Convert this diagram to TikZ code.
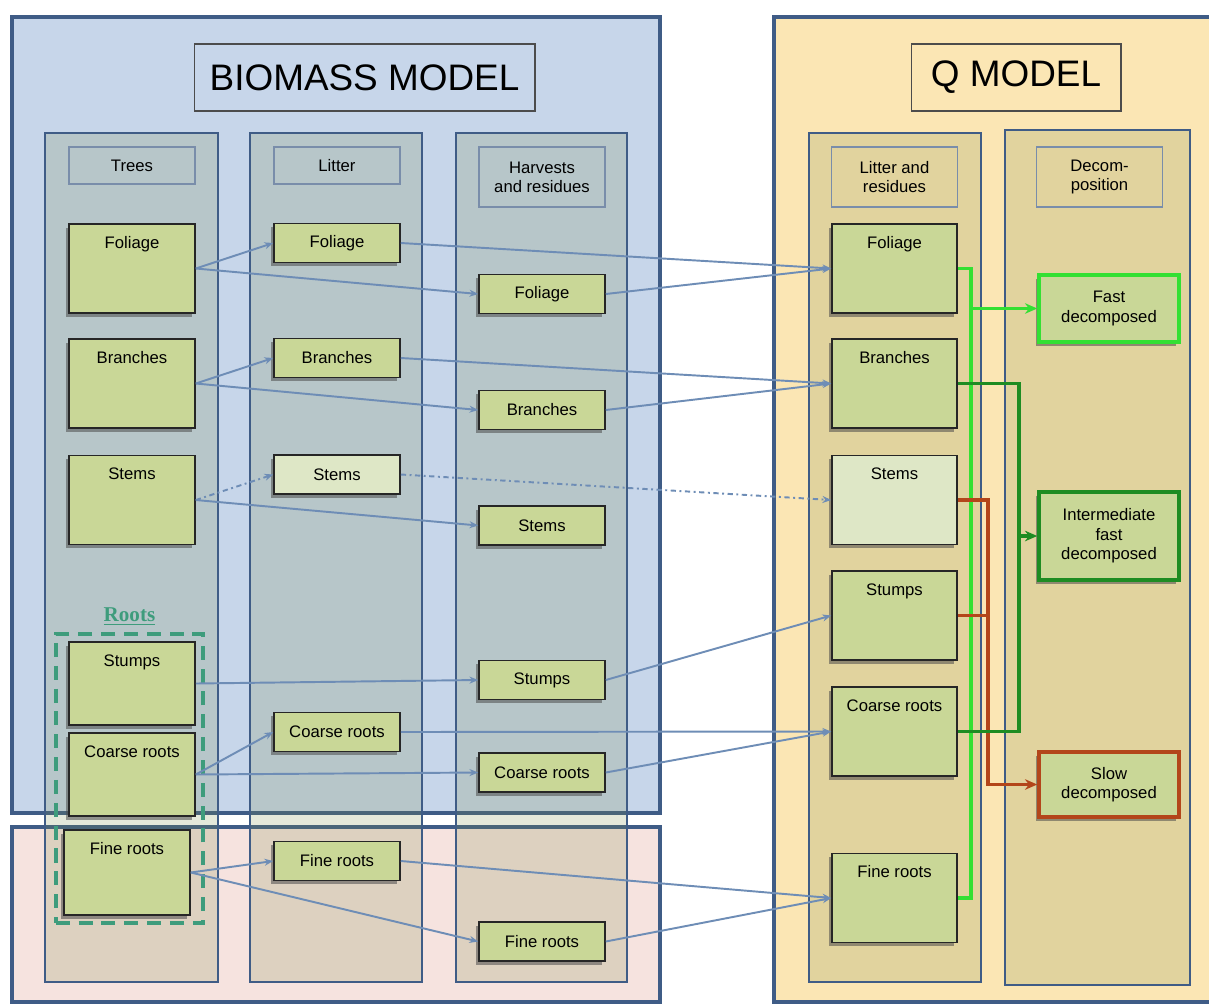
\documentclass[tikz,border=0pt]{standalone}
\usepackage{fontspec}
\setmainfont{Liberation Sans}
\newfontfamily\rootsfont{Liberation Serif}
\usetikzlibrary{positioning, arrows.meta, shadows, fit}

\definecolor{biomassbg}{HTML}{C7D6EA}
\definecolor{soilbg}{HTML}{F6E3DF}
\definecolor{qbg}{HTML}{FBE6B4}
\definecolor{frame}{HTML}{3F5C86}
\definecolor{lanefill}{HTML}{7A8A48}
\definecolor{poolfill}{HTML}{C9D797}
\definecolor{palepool}{HTML}{DEE7C6}
\definecolor{flowblue}{HTML}{6E8DB6}
\definecolor{fastgreen}{HTML}{33E033}
\definecolor{midgreen}{HTML}{1E8C22}
\definecolor{slowbrown}{HTML}{B3461A}
\definecolor{rootsteal}{HTML}{3E9C7C}

\begin{document}
\begin{tikzpicture}[
  >=Stealth,
  x=0.02cm, y=-0.02cm,
  font=\fontsize{9.5}{11}\selectfont
]
\tikzstyle{region}=[draw=frame, line width=1.8pt]
\tikzstyle{lane}=[draw=frame, line width=1.6pt, fill=lanefill, fill opacity=0.2]
\tikzstyle{lanehead}=[draw=frame!70, line width=0.6pt, minimum width=2.52cm, minimum height=0.74cm, align=center, inner sep=1pt]
\tikzstyle{modeltitle}=[draw=black!70, line width=0.6pt, minimum height=1.34cm, font=\fontsize{21}{24}\selectfont]
\tikzstyle{pool}=[draw=black!85, line width=0.9pt, fill=poolfill, minimum width=2.52cm, minimum height=0.78cm, inner sep=2pt, align=center, drop shadow={shadow xshift=-1.5pt, shadow yshift=-2pt, fill=black!70, opacity=0.55}]
\tikzstyle{tallpool}=[pool, text height=0.38cm, text depth=1.2cm, inner ysep=0.1cm]
\tikzstyle{sink}=[pool, line width=2pt, minimum width=2.8cm]
\tikzstyle{flow}=[-{Stealth[length=5pt, width=4pt]}, draw=flowblue, line width=1.1pt]
\tikzstyle{bus}=[line width=2pt]
\tikzstyle{busarrow}=[bus, -{Stealth[length=7pt, width=6pt]}]

\useasboundingbox (0,0) rectangle (1209,1004);

% ================= BACKGROUND =================
\draw[region, fill=biomassbg] (12,17) rectangle (660,813);
\draw[region, fill=soilbg] (12,827) rectangle (660,1002);
\draw[region, fill=qbg] (774,17) rectangle (1215,1002);

\draw[lane] (45,133) rectangle (218,982);
\draw[lane] (250,133) rectangle (422,982);
\draw[lane] (456,133) rectangle (627,982);
\draw[lane] (809,133) rectangle (981,982);
\draw[lane] (1005,130) rectangle (1190,985);

% ================= TITLES =================
\node[modeltitle, minimum width=6.82cm] (bmtitle) at (364.5,77.5) {BIOMASS MODEL};
\node[modeltitle, minimum width=4.2cm] (qtitle) at (1016,77.5) {Q MODEL};

\node[lanehead] (trees) at (132,165.5) {Trees};
\node[lanehead] (litter) at (337,165.5) {Litter};
\node[lanehead, minimum height=1.2cm] (harv) at (542,177) {Harvests\\and residues};
\node[lanehead, minimum height=1.2cm] (qlitter) at (894.5,177) {Litter and\\residues};
\node[lanehead, minimum height=1.2cm] (decomp) at (1099.5,177) {Decom-\\position};

% ================= TREES =================
\node[tallpool] (TFol) at (132,268.5) {Foliage};
\node[tallpool] (TBra) at (132,383.5) {Branches};
\node[tallpool] (TSte) at (132,500) {Stems};
\node[tallpool, text depth=1.08cm] (TStu) at (132,683.5) {Stumps};
\node[tallpool, text depth=1.08cm] (TCoa) at (132,774.5) {Coarse roots};
\node[tallpool, text depth=1.12cm] (TFin) at (127,872.5) {Fine roots};

\node[draw=rootsteal, dashed, dash pattern=on 8pt off 5pt, line width=2.2pt, inner sep=0.15cm, fit=(TStu)(TFin)] (rootsbox) {};
\node[above=0pt of rootsbox, text=rootsteal, font=\rootsfont\bfseries\fontsize{12}{14}\selectfont] (rootstxt) {\underline{Roots}};

% ================= LITTER =================
\node[pool] (LFol) at (337,243) {Foliage};
\node[pool] (LBra) at (337,358) {Branches};
\node[pool, fill=palepool] (LSte) at (337,474.5) {Stems};
\node[pool] (LCoa) at (337,732) {Coarse roots};
\node[pool] (LFin) at (337,861) {Fine roots};

% ================= HARVESTS =================
\node[pool] (HFol) at (542,294) {Foliage};
\node[pool] (HBra) at (542,410) {Branches};
\node[pool] (HSte) at (542,525.5) {Stems};
\node[pool] (HStu) at (542,680) {Stumps};
\node[pool] (HCoa) at (542,772.5) {Coarse roots};
\node[pool] (HFin) at (542,941.5) {Fine roots};

% ================= Q LITTER =================
\node[tallpool, minimum width=2.5cm] (QFol) at (894.5,268.5) {Foliage};
\node[tallpool, minimum width=2.5cm] (QBra) at (894.5,383.5) {Branches};
\node[tallpool, minimum width=2.5cm, fill=palepool] (QSte) at (894.5,500) {Stems};
\node[tallpool, minimum width=2.5cm] (QStu) at (894.5,615.5) {Stumps};
\node[tallpool, minimum width=2.5cm] (QCoa) at (894.5,731.5) {Coarse roots};
\node[tallpool, minimum width=2.5cm] (QFin) at (894.5,898) {Fine roots};

% ================= DECOMPOSITION =================
\node[sink, draw=fastgreen, minimum height=1.34cm] (Fast) at (1109,308.5) {Fast\\decomposed};
\node[sink, draw=midgreen, minimum height=1.76cm] (Inter) at (1109,536) {Intermediate\\fast\\decomposed};
\node[sink, draw=slowbrown, minimum height=1.3cm] (Slow) at (1109,784.5) {Slow\\decomposed};

% ===== Transfers =====
\foreach \a/\b in {TFol/LFol, TFol/HFol, LFol/QFol, HFol/QFol,
                   TBra/LBra, TBra/HBra, LBra/QBra, HBra/QBra,
                   TSte/HSte, TStu/HStu, HStu/QStu,
                   TCoa/LCoa, TCoa/HCoa, LCoa/QCoa, HCoa/QCoa,
                   TFin/LFin, TFin/HFin, LFin/QFin, HFin/QFin}
  \draw[flow] (\a.east) -- (\b.west);

\foreach \a/\b in {TSte/LSte, LSte/QSte}
  \draw[flow, dash dot] (\a.east) -- (\b.west);

% ===== Decomposition buses =====
\coordinate (fbus) at (971,0);
\coordinate (sbus) at (988,0);
\coordinate (mbus) at (1019,0);

\draw[bus, fastgreen] (QFol.east) -| (QFin.east -| fbus) -- (QFin.east);
\draw[busarrow, fastgreen] (Fast.west -| fbus) -- (Fast.west);

\draw[bus, slowbrown] (QStu.east) -- (QStu.east -| sbus);
\draw[busarrow, slowbrown] (QSte.east) -| (Slow.west -| sbus) -- (Slow.west);

\draw[bus, midgreen] (QBra.east) -| (QCoa.east -| mbus) -- (QCoa.east);
\draw[busarrow, midgreen] (Inter.west -| mbus) -- (Inter.west);
\end{tikzpicture}
\end{document}
